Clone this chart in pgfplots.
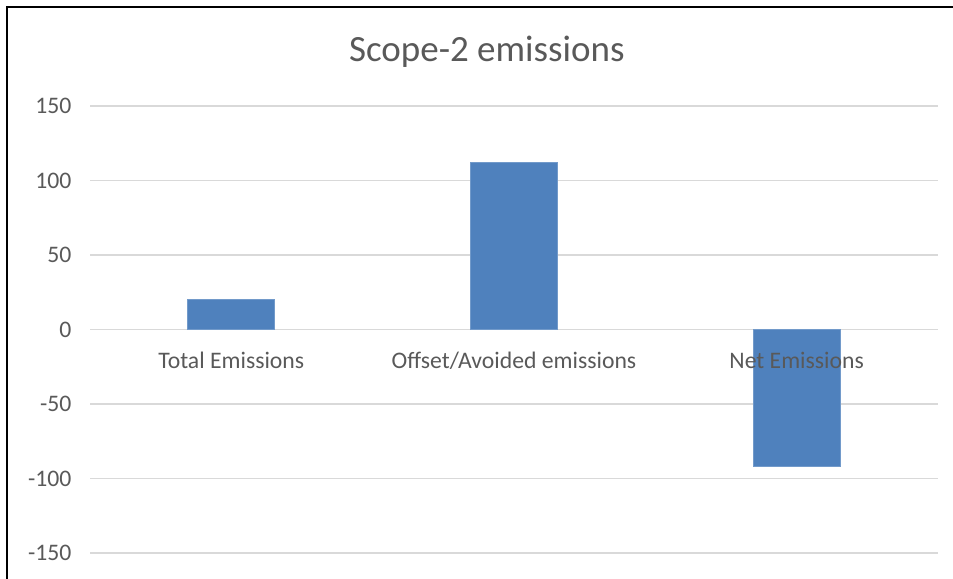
\documentclass[border=0pt]{standalone}
\usepackage{pgfplots}
\pgfplotsset{compat=1.18}
\usepackage{fontspec}
\setmainfont{Carlito}
\definecolor{txt}{RGB}{89,89,89}
\definecolor{gridc}{RGB}{217,217,217}
\definecolor{barc}{RGB}{79,129,189}
\pgfplotsset{
  common/.style={
    at={(90bp,26bp)}, anchor=south west,
    scale only axis, width=848bp, height=447bp,
    ymin=-150, ymax=150,
    xmin=-0.5, xmax=2.5,
    axis line style={draw=none},
    major tick length=0pt,
    /pgf/number format/assume math mode=true,
    tick label style={font=\fontsize{23.7bp}{28bp}\selectfont, text=txt},
  }
}
\begin{document}
\begin{tikzpicture}
\useasboundingbox (0,0) rectangle (953bp,579bp);
\draw[line width=2bp,black] (7bp,0) -- (7bp,572bp) -- (953bp,572bp);
\begin{axis}[
  common,
  ytick={-150,-100,...,150},
  xtick={0,1,2}, xticklabels={},
  ymajorgrids, grid style={color=gridc, line width=1.6bp},
  yticklabel style={anchor=east, xshift=-15bp},
  title={Scope-2 emissions},
  title style={at={(axis description cs:0.468,1.087)}, anchor=base, font=\fontsize{37bp}{44bp}\selectfont, text=txt},
  ybar, bar width=0.308, bar shift=0pt,
]
\addplot[fill=barc, draw=barc!80!white, line width=0.8bp] coordinates {(0,20) (1,112) (2,-92)};
\end{axis}
\begin{axis}[
  common,
  ytick=\empty,
  xtick={0,1,2},
  xticklabels={Total Emissions, Offset/Avoided emissions, Net Emissions},
  xticklabel style={anchor=base, yshift=184bp},
]
\end{axis}
\end{tikzpicture}
\end{document}
